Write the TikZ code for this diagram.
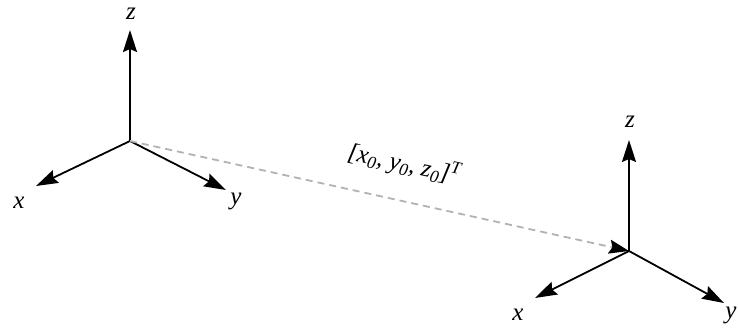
\documentclass[tikz,border=0pt]{standalone}
\usepackage{fontspec}
\setmainfont{Liberation Serif}
\usetikzlibrary{arrows.meta}
\begin{document}
\begin{tikzpicture}[x=1pt,y=-1pt,
  axis/.style={line width=1.8pt,-{Stealth[length=22pt,width=14pt,inset=3pt]}},
  lab/.style={font=\fontsize{25}{28}\selectfont\itshape,inner sep=0pt},
  offs/.style={gray!60,line width=1.8pt,dash pattern=on 7pt off 5pt,-{Stealth[length=20pt,width=14pt,inset=3pt,black,fill=black]}}]
\useasboundingbox (0,0) rectangle (738,332);
% left frame
\coordinate (o1) at (130,141);
\coordinate (z1) at (130,30);
\coordinate (x1) at (36,186);
\coordinate (y1) at (226,190);
\draw[axis] (o1) -- (z1);
\draw[axis] (o1) -- (x1);
\draw[axis] (o1) -- (y1);
\node[lab] (lz1) at (131,14) {z};
\node[lab] (lx1) at (19,203) {x};
\node[lab] (ly1) at (236,201) {y};
% right frame
\coordinate (o2) at (629,251);
\coordinate (z2) at (629,140);
\coordinate (x2) at (535,298);
\coordinate (y2) at (724,303);
\draw[axis] (o2) -- (z2);
\draw[axis] (o2) -- (x2);
\draw[axis] (o2) -- (y2);
\node[lab] (lz2) at (630,122) {z};
\node[lab] (lx2) at (518,315) {x};
\node[lab] (ly2) at (731,315) {y};
% offset
\draw[offs] (o1) -- (o2);
\node[lab,rotate=-12.4] (off) at (404,164) {[x\textsubscript{0}, y\textsubscript{0}, z\textsubscript{0}]\textsuperscript{T}};
\end{tikzpicture}
\end{document}
